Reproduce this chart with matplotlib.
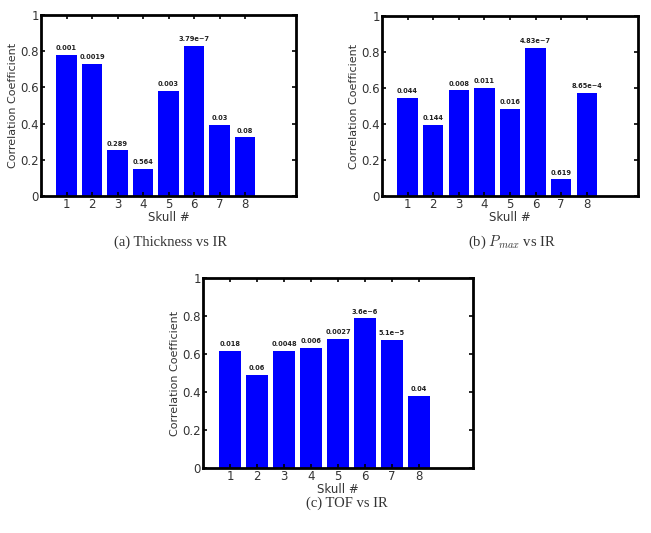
import matplotlib
matplotlib.use("Agg")
import matplotlib.pyplot as plt
import numpy as np

plt.rcParams['mathtext.fontset'] = 'cm'

skulls = [1, 2, 3, 4, 5, 6, 7, 8]

thickness_r = [0.78, 0.73, 0.253, 0.15, 0.58, 0.83, 0.395, 0.325]
thickness_p = ["0.001", "0.0019", "0.289", "0.564", "0.003", "3.79e\u22127", "0.03", "0.08"]

pmax_r = [0.545, 0.396, 0.587, 0.60, 0.485, 0.823, 0.093, 0.572]
pmax_p = ["0.044", "0.144", "0.008", "0.011", "0.016", "4.83e\u22127", "0.619", "8.65e\u22124"]

tof_r = [0.617, 0.49, 0.617, 0.633, 0.678, 0.787, 0.673, 0.38]
tof_p = ["0.018", "0.06", "0.0048", "0.006", "0.0027", "3.6e\u22126", "5.1e\u22125", "0.04"]

captions = ["(a) Thickness vs IR", r"(b) $P_{max}$ vs IR", "(c) TOF vs IR"]

W, H = 651, 533
fig = plt.figure(figsize=(W / 100, H / 100), dpi=100)

def ax_rect(l, r, t, b):
    return [l / W, 1 - b / H, (r - l) / W, (b - t) / H]

panels = [
    (ax_rect(41, 296, 15, 196), thickness_r, thickness_p, (170, 242)),
    (ax_rect(382, 638, 16, 196), pmax_r, pmax_p, (512, 242)),
    (ax_rect(203, 473, 278, 468), tof_r, tof_p, (347, 503)),
]

for (rect, vals, plabels, cap_xy), cap in zip(panels, captions):
    ax = fig.add_axes(rect)
    ax.bar(skulls, vals, width=0.8, color='#0000ff', edgecolor='none')
    for x, v, s in zip(skulls, vals, plabels):
        ax.text(x, v + 0.02, s, ha='center', va='bottom', fontsize=4.8,
                color='#222222', fontweight='bold')
    ax.set_xlim(0, 10)
    ax.set_ylim(0, 1)
    ax.set_xticks(skulls)
    ax.set_yticks([0, 0.2, 0.4, 0.6, 0.8, 1])
    ax.set_yticklabels(["0", "0.2", "0.4", "0.6", "0.8", "1"])
    ax.tick_params(direction='in', top=True, right=True, length=3, width=1.2,
                   labelsize=8.5, colors='black', labelcolor='#333333', pad=1.5)
    for sp in ax.spines.values():
        sp.set_linewidth(2)
    ax.set_xlabel("Skull #", fontsize=8.5, color='#333333', labelpad=0)
    ax.set_ylabel("Correlation Coefficient", fontsize=8, color='#333333', labelpad=2)
    fig.text(cap_xy[0] / W, 1 - cap_xy[1] / H, cap, ha='center', va='center',
             fontsize=10.5, family='Liberation Serif', color='#333333')

fig.savefig("out.png", dpi=100)
